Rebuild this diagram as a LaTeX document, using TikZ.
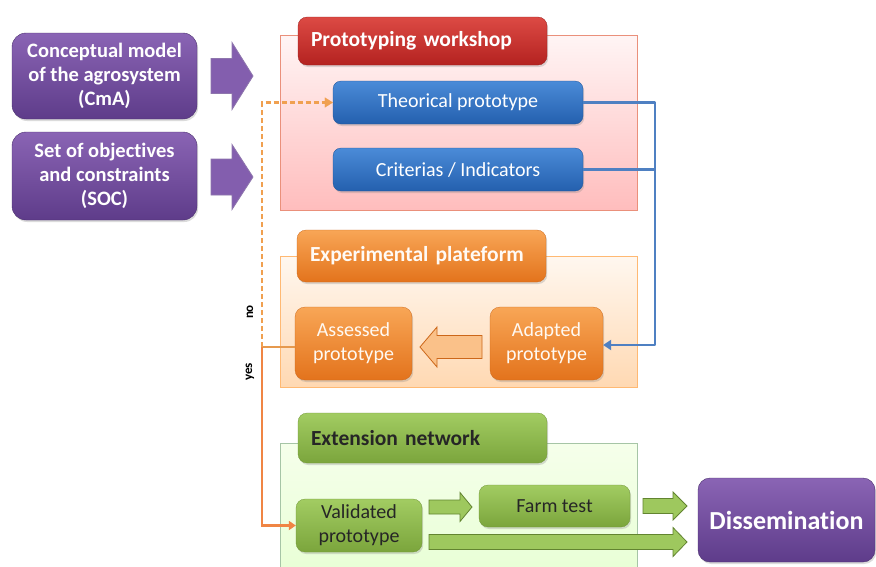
\documentclass[tikz,border=0pt]{standalone}
\usepackage{fontspec}
\setmainfont{Carlito}[Ligatures=NoCommon]
\usetikzlibrary{arrows.meta,shadows}
\definecolor{purpT}{HTML}{8A64B4}
\definecolor{purpB}{HTML}{5E3C8A}
\definecolor{redT}{HTML}{DC4A44}
\definecolor{redB}{HTML}{B42220}
\definecolor{bluT}{HTML}{4B8BD8}
\definecolor{bluB}{HTML}{2460AE}
\definecolor{oraT}{HTML}{F8A656}
\definecolor{oraB}{HTML}{E3731C}
\definecolor{grnT}{HTML}{A2CC62}
\definecolor{grnB}{HTML}{7BA53C}
\definecolor{blueline}{HTML}{4F80C2}
\definecolor{oraline}{HTML}{F0A050}
\definecolor{oraline2}{HTML}{F08544}
\tikzset{
  box/.style={rounded corners=#1, inner sep=0pt, align=center,
    drop shadow={opacity=0.28, shadow xshift=1.2pt, shadow yshift=-2pt}},
  purplebox/.style={box=14pt, shading=axis, top color=purpT, bottom color=purpB,
    draw=purpB!80!black, line width=0.4pt, text=white, font=\bfseries\fontsize{20.5}{24}\selectfont},
  titlebox/.style={box=9pt, minimum height=#1, text width=223pt, inner xsep=13pt, align=left,
    font=\bfseries\fontsize{21.5}{24}\selectfont},
  bluebox/.style={box=8pt, shading=axis, top color=bluT, bottom color=bluB, draw=bluB!85!black,
    line width=0.3pt, text=white, font=\fontsize{20}{24}\selectfont, minimum width=250pt, minimum height=43pt},
  orabox/.style={box=10pt, shading=axis, top color=oraT, bottom color=oraB, draw=oraB!90!black,
    line width=0.3pt, text=white!95!orange, font=\fontsize{20}{24}\selectfont},
  grnbox/.style={box=9pt, shading=axis, top color=grnT, bottom color=grnB, draw=grnB!90!black,
    line width=0.3pt, text=black!85, font=\fontsize{20}{24}\selectfont},
  bluecon/.style={draw=blueline, line width=2.4pt, line join=round},
  oracon/.style={draw=oraline, line width=2.4pt, dash pattern=on 5pt off 3pt},
  labelno/.style={font=\bfseries\fontsize{13}{13}\selectfont, rotate=90},
}
\newcommand{\blockarrow}[9]{%
  % #1 tail x, #2 tip x, #3 y, #4 shaft half, #5 head half, #6 head length, #7 fill, #8 draw, #9 name
  \draw[fill=#7, draw=#8, line width=0.8pt, line join=miter]
    (#1,#3-#4) -- ({#2-(#6)*sign(#2-#1)},#3-#4) -- ({#2-(#6)*sign(#2-#1)},#3-#5) -- (#2,#3)
    -- ({#2-(#6)*sign(#2-#1)},#3+#5) -- ({#2-(#6)*sign(#2-#1)},#3+#4) -- (#1,#3+#4) -- cycle;
  \coordinate (#9) at (#2,#3);}
\begin{document}
\begin{tikzpicture}[x=1pt,y=-1pt]
\useasboundingbox[fill=white] (0,0) rectangle (876,566);

% panels
\path[shading=axis, top color=red!4, bottom color=red!26, draw=red!45!brown!60, line width=0.6pt]
  (280,35) rectangle (637,210);
\path[shading=axis, top color=orange!6, bottom color=orange!30, draw=orange!55, line width=0.6pt]
  (280,256) rectangle (637,387);
\path[shading=axis, top color=green!30!lime!8, bottom color=green!40!lime!16] (280,443) rectangle (637,570);
\draw[draw=green!35!black!35, line width=0.6pt] (280,570) -- (280,443) -- (637,443) -- (637,570);

% left inputs
\node[purplebox, minimum width=185pt, minimum height=86pt] (cma) at (104.5,76)
  {Conceptual model\\of the agrosystem\\(CmA)};
\node[purplebox, minimum width=185pt, minimum height=88pt] (soc) at (104.5,176)
  {Set of objectives\\and constraints\\(SOC)};
\blockarrow{211}{253}{76}{17.5}{33.5}{21}{purpT!85!purpB}{purpB!70}{a1}
\blockarrow{211}{253}{177}{18}{32.5}{21}{purpT!85!purpB}{purpB!70}{a2}

% titles
\node[titlebox=48pt, shading=axis, top color=redT, bottom color=redB, draw=redB!85!black, line width=0.3pt, text=white]
  (pw) at (422.5,41) {Prototyping workshop};
\node[titlebox=52pt, shading=axis, top color=oraT, bottom color=oraB, draw=oraB!90!black, line width=0.3pt, text=white!96!orange]
  (ep) at (421.5,256) {Experimental plateform};
\node[titlebox=50pt, shading=axis, top color=grnT, bottom color=grnB, draw=grnB!90!black, line width=0.3pt, text=black!85]
  (en) at (422.5,438) {Extension network};

% blue boxes
\node[bluebox] (theo) at (458,102.5) {Theorical prototype};
\node[bluebox] (crit) at (458,169.5) {Criterias / Indicators};

% orange boxes
\node[orabox, minimum width=117pt, minimum height=73pt] (assess) at (353.5,343.5) {Assessed\\prototype};
\node[orabox, minimum width=113pt, minimum height=73pt] (adapt) at (546.5,343.5) {Adapted\\prototype};
\blockarrow{482}{420}{347}{11.5}{20}{17}{oraT!70!white}{oraB!90!black}{a3}

% green boxes
\node[grnbox, minimum width=126pt, minimum height=53pt] (valid) at (359,525.5) {Validated\\prototype};
\node[grnbox, minimum width=151pt, minimum height=42pt] (farm) at (554.5,506) {Farm test};
\node[purplebox, minimum width=177pt, minimum height=84pt, rounded corners=12pt,
  font=\bfseries\fontsize{26}{28}\selectfont] (diss) at (786.5,520) {Dissemination};
\blockarrow{429}{472}{507}{7}{14.5}{12}{grnT!90!grnB}{grnB!80!black}{a4}
\blockarrow{643}{687}{506}{7.5}{14}{14}{grnT!90!grnB}{grnB!80!black}{a5}
\blockarrow{429}{687}{542}{7.5}{14.5}{14}{grnT!90!grnB}{grnB!80!black}{a6}

% blue connectors
\coordinate (bt) at (655,102.5);
\coordinate (bb) at (655,345);
\draw[bluecon] (crit.east) -- (crit.east -| bt);
\draw[bluecon, -{Triangle[length=8pt,width=10pt]}] (theo.east) -- (bt) -- (bb) -- (adapt.east |- bb);

% orange loop
\coordinate (nj) at (262,347);
\draw[draw=oraline!80!brown, line width=1.2pt] (assess.west |- nj) -- (nj);
\draw[oracon] (nj) -- (262,102.5) -- ([xshift=-8pt]theo.west);
\draw[draw=oraline, -{Triangle[length=8pt,width=10pt]}, line width=0.1pt, fill=oraline] ([xshift=-9pt]theo.west) -- (theo.west);
\draw[draw=oraline2, line width=2.4pt, -{Triangle[length=7pt,width=9pt]}] (nj) |- (valid.west);

\node[labelno] (no) at (250,312) {no};
\node[labelno] (yes) at (250,372) {yes};
\end{tikzpicture}
\end{document}
